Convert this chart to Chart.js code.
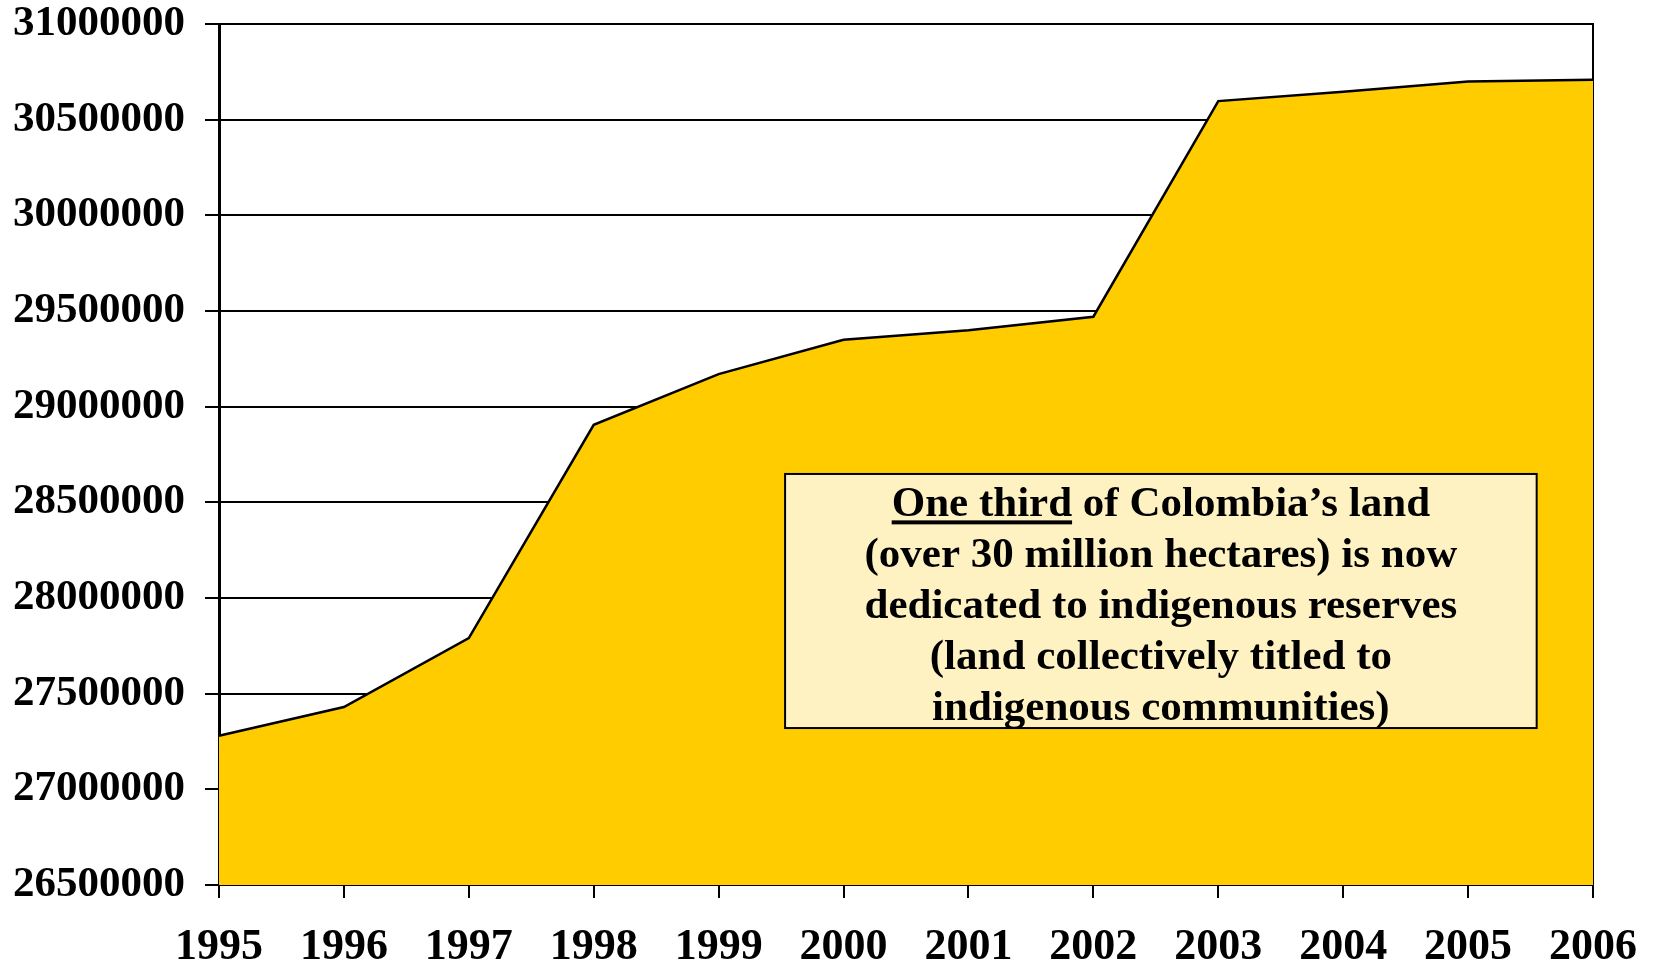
<!DOCTYPE html>
<html>
<head>
<meta charset="utf-8">
<script src="https://cdn.jsdelivr.net/npm/chart.js@4"></script>
<style>
  html, body { margin: 0; padding: 0; background: #ffffff; }
  #wrap { width: 1653px; height: 963px; }
</style>
</head>
<body>
<div id="wrap"><canvas id="grafico" width="1653" height="963"></canvas></div>
<script>
// --- dados ---
const anos = ['1995', '1996', '1997', '1998', '1999', '2000', '2001', '2002', '2003', '2004', '2005', '2006'];
const hectares = [27280000, 27430000, 27790000, 28905000, 29170000, 29350000, 29400000, 29470000, 30597000, 30646000, 30700000, 30709000];
const ticksY = [26500000, 27000000, 27500000, 28000000, 28500000, 29000000, 29500000, 30000000, 30500000, 31000000];
const linhasCaixa = [
    ['One third', ' of Colombia\u2019s land'],
    ['(over 30 million hectares) is now'],
    ['dedicated to indigenous reserves'],
    ['(land collectively titled to'],
    ['indigenous communities)']
];

const FONTE = '"Liberation Serif", "Times New Roman", serif';

// caixa de texto sobre o gráfico
const caixaTexto = {
    id: 'caixaTexto',
    afterDraw(chart) {
        const { ctx, chartArea } = chart;
        const w = chartArea.right - chartArea.left;
        const h = chartArea.bottom - chartArea.top;
        const x0 = chartArea.left + w * 0.412;
        const x1 = chartArea.left + w * 0.959;
        const y0 = chartArea.top + h * 0.5226;
        const y1 = chartArea.top + h * 0.8177;

        ctx.save();
        ctx.fillStyle = '#fff2c2';
        ctx.fillRect(x0, y0, x1 - x0, y1 - y0);
        ctx.strokeStyle = '#000';
        ctx.lineWidth = 2;
        ctx.strokeRect(x0, y0, x1 - x0, y1 - y0);

        ctx.font = 'bold 43px ' + FONTE;
        ctx.fillStyle = '#000';
        ctx.textBaseline = 'alphabetic';
        ctx.textAlign = 'left';
        const cx = (x0 + x1) / 2;
        const passo = (y1 - y0) / linhasCaixa.length;
        linhasCaixa.forEach((partes, i) => {
            const base = y0 + passo * (i + 0.5) + 17;
            const total = partes.reduce((s, p) => s + ctx.measureText(p).width, 0);
            let x = cx - total / 2;
            partes.forEach((p, j) => {
                ctx.fillText(p, x, base);
                const larg = ctx.measureText(p).width;
                if (i === 0 && j === 0) {
                    ctx.fillRect(x, base + 4, larg, 4); // sublinhado
                }
                x += larg;
            });
        });
        ctx.restore();
    }
};

const ctx = document.getElementById('grafico').getContext('2d');
new Chart(ctx, {
    type: 'line',
    data: {
        labels: anos,
        datasets: [{
            data: hectares,
            borderColor: '#000',
            borderWidth: 2.5,
            backgroundColor: '#ffcc00',
            fill: 'start',
            tension: 0,
            pointRadius: 0,
            yAxisID: 'y'
        }]
    },
    options: {
        responsive: false,
        animation: false,
        layout: { padding: { top: 24, right: 0, left: 0, bottom: 0 } },
        plugins: {
            legend: { display: false },
            tooltip: { enabled: false }
        },
        scales: {
            x: {
                offset: false,
                z: 1,
                grid: { display: true, drawOnChartArea: false, color: '#000', lineWidth: 2, tickLength: 13, tickWidth: 2 },
                border: { display: true, color: '#000', width: 2 },
                ticks: {
                    color: '#000',
                    font: { family: FONTE, size: 44, weight: 'bold' },
                    padding: 23,
                    maxRotation: 0,
                    autoSkip: false
                },
                afterFit(scale) {
                    scale.height = 78;
                    scale.paddingLeft = 0;
                    scale.paddingRight = 0;
                }
            },
            y: {
                min: ticksY[0],
                max: ticksY[ticksY.length - 1],
                afterBuildTicks(scale) { scale.ticks = ticksY.map(v => ({ value: v })); },
                grid: { color: '#000', lineWidth: 2, tickLength: 14 },
                border: { display: true, color: '#000', width: 3 },
                ticks: {
                    color: '#000',
                    font: { family: FONTE, size: 43, weight: 'bold' },
                    padding: 20,
                    callback: v => String(v)
                },
                afterFit(scale) {
                    scale.width = 219;
                    scale.paddingTop = 0;
                    scale.paddingBottom = 0;
                }
            },
            y2: {
                position: 'right',
                min: ticksY[0],
                max: ticksY[ticksY.length - 1],
                z: 1,
                grid: { drawOnChartArea: false, drawTicks: false },
                border: { display: true, color: '#000', width: 2 },
                ticks: { display: false },
                afterFit(scale) {
                    scale.width = 60;
                    scale.paddingTop = 0;
                    scale.paddingBottom = 0;
                }
            }
        }
    },
    plugins: [caixaTexto]
});
</script>
</body>
</html>
